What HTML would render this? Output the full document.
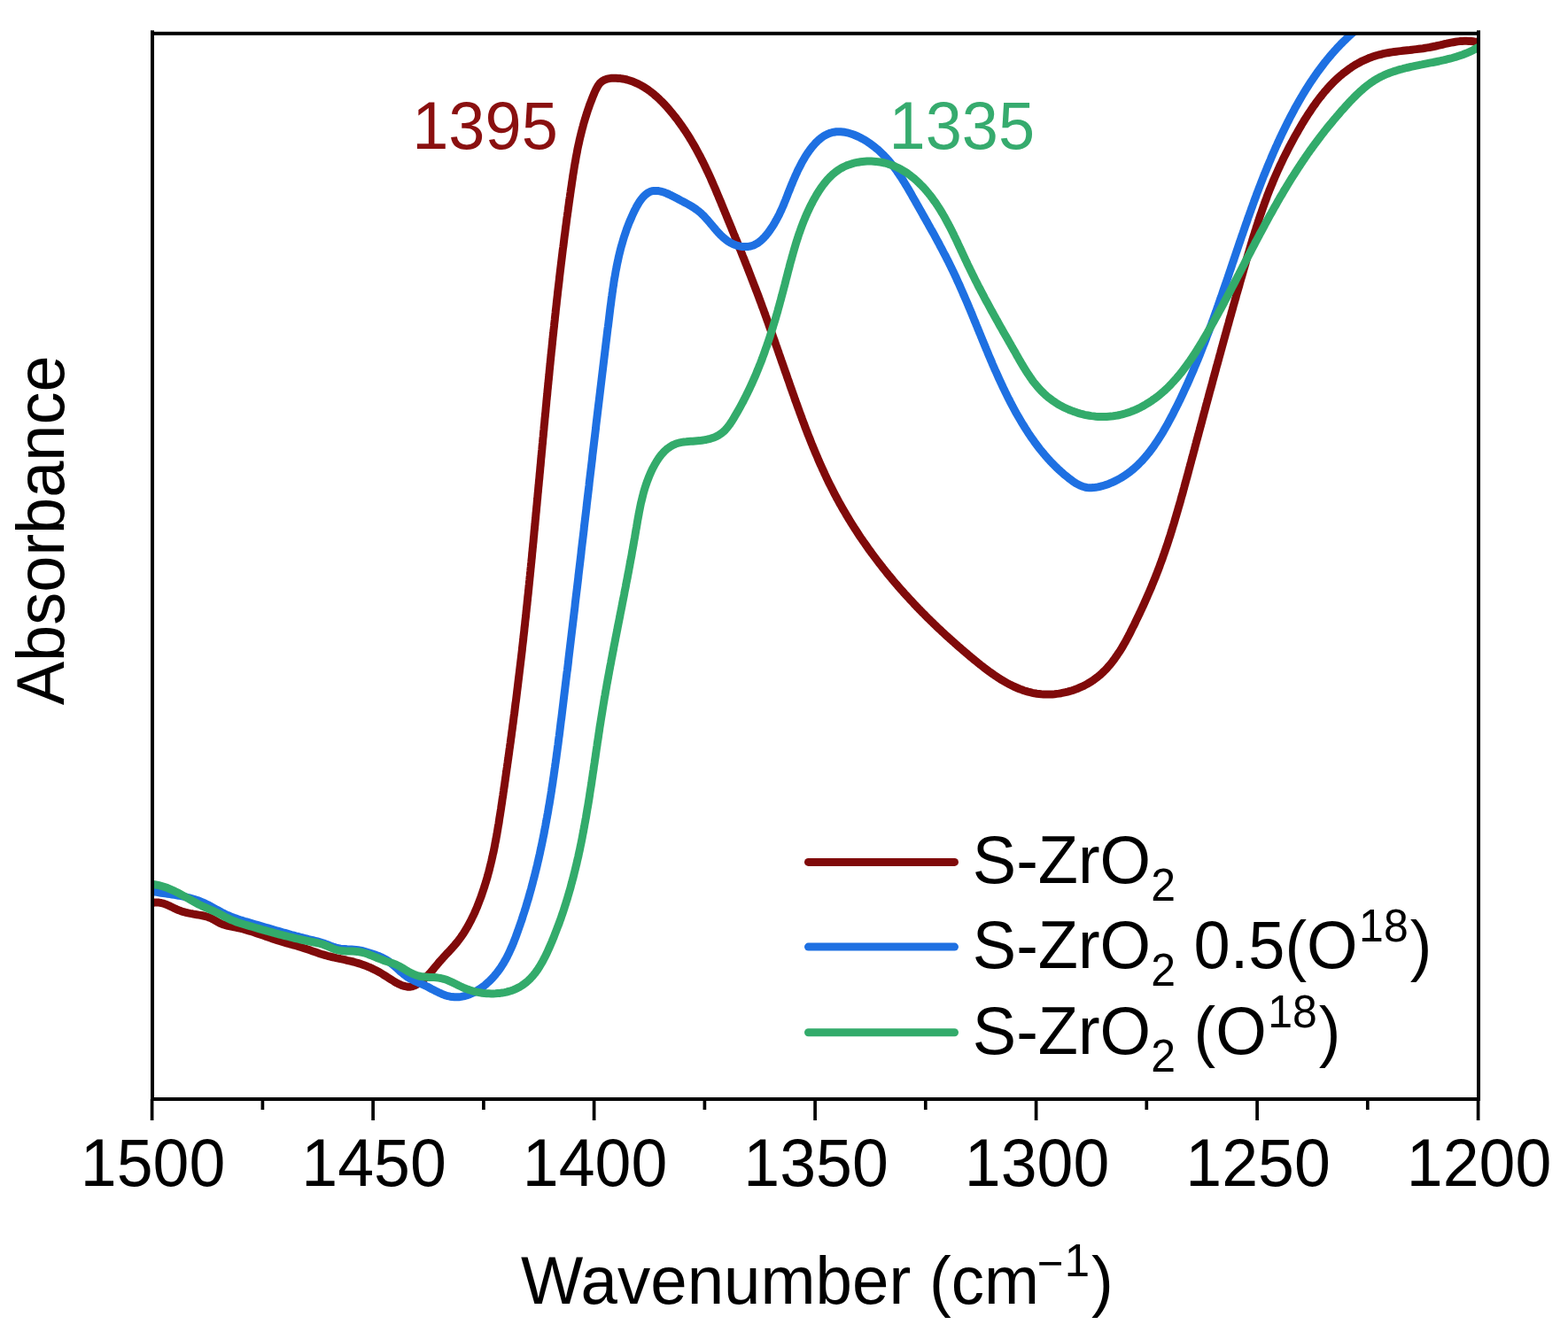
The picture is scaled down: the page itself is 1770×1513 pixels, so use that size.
<!DOCTYPE html>
<html><head><meta charset="utf-8"><style>html,body{margin:0;padding:0;background:#fff;width:1770px;height:1513px;overflow:hidden}svg{display:block}</style></head>
<body><svg width="1770" height="1513" viewBox="0 0 1770 1513">
<rect width="1770" height="1513" fill="#fff"/>
<defs><clipPath id="cp"><rect x="172" y="37.8" width="1497" height="1203.2"/></clipPath></defs>
<g clip-path="url(#cp)" fill="none" stroke-width="9" stroke-linejoin="round" stroke-linecap="round">
<path stroke="#800a0a" d="M172.0,1019.5L174.4,1019.1L176.9,1018.9L179.4,1019.1L181.9,1019.5L184.3,1020.1L186.7,1020.9L189.0,1021.9L191.3,1022.9L193.6,1024.0L195.8,1025.1L198.1,1026.1L200.4,1027.2L202.7,1028.1L205.0,1028.9L207.4,1029.7L209.9,1030.3L212.3,1030.9L214.7,1031.4L217.2,1031.8L219.7,1032.3L222.1,1032.7L224.6,1033.1L227.1,1033.5L229.5,1034.0L232.0,1034.6L234.4,1035.3L236.7,1036.2L239.0,1037.2L241.2,1038.4L243.4,1039.7L245.5,1040.9L247.7,1042.1L250.0,1043.1L252.3,1044.0L254.7,1044.7L257.2,1045.4L259.6,1045.9L262.1,1046.4L264.5,1046.9L267.0,1047.3L269.4,1047.9L271.9,1048.4L274.3,1049.0L276.7,1049.7L279.1,1050.4L281.5,1051.1L283.9,1051.8L286.3,1052.6L288.7,1053.4L291.0,1054.2L293.4,1055.0L295.8,1055.8L298.1,1056.6L300.5,1057.5L302.9,1058.3L305.2,1059.1L307.6,1059.9L310.0,1060.7L312.3,1061.5L314.7,1062.3L317.1,1063.0L319.5,1063.7L321.9,1064.4L324.3,1065.1L326.7,1065.8L329.2,1066.4L331.6,1067.1L334.0,1067.7L336.4,1068.4L338.8,1069.2L341.2,1069.9L343.5,1070.7L345.9,1071.5L348.3,1072.3L350.6,1073.1L353.0,1074.0L355.4,1074.8L357.7,1075.6L360.1,1076.4L362.5,1077.2L364.9,1077.9L367.3,1078.6L369.7,1079.3L372.1,1079.9L374.6,1080.5L377.0,1081.0L379.4,1081.6L381.9,1082.1L384.3,1082.7L386.8,1083.2L389.2,1083.7L391.7,1084.3L394.1,1084.8L396.5,1085.4L399.0,1086.0L401.4,1086.7L403.8,1087.4L406.2,1088.1L408.6,1088.9L410.9,1089.7L413.3,1090.6L415.6,1091.6L417.9,1092.5L420.2,1093.6L422.4,1094.7L424.6,1095.8L426.9,1097.0L429.0,1098.2L431.2,1099.5L433.3,1100.8L435.4,1102.1L437.5,1103.5L439.6,1104.8L441.7,1106.2L443.9,1107.5L446.0,1108.8L448.2,1110.1L450.4,1111.2L452.7,1112.2L455.1,1113.1L457.5,1113.7L459.9,1114.2L462.4,1114.3L464.9,1113.9L467.3,1113.1L469.5,1112.1L471.7,1110.8L473.8,1109.5L475.8,1108.0L477.7,1106.4L479.6,1104.7L481.4,1103.0L483.1,1101.2L484.8,1099.3L486.5,1097.5L488.1,1095.6L489.7,1093.6L491.3,1091.7L492.9,1089.8L494.5,1087.9L496.1,1085.9L497.8,1084.1L499.5,1082.2L501.1,1080.3L502.8,1078.5L504.5,1076.7L506.3,1074.8L508.0,1073.0L509.7,1071.2L511.3,1069.3L513.0,1067.4L514.6,1065.5L516.2,1063.6L517.7,1061.6L519.2,1059.6L520.7,1057.6L522.1,1055.5L523.5,1053.4L524.8,1051.3L526.1,1049.2L527.4,1047.0L528.6,1044.8L529.8,1042.6L531.0,1040.4L532.1,1038.2L533.2,1035.9L534.3,1033.7L535.4,1031.4L536.4,1029.1L537.4,1026.8L538.4,1024.5L539.3,1022.2L540.2,1019.9L541.1,1017.5L542.0,1015.2L542.9,1012.9L543.7,1010.5L544.5,1008.1L545.3,1005.8L546.1,1003.4L546.9,1001.0L547.6,998.6L548.4,996.2L549.1,993.8L549.8,991.4L550.5,989.0L551.1,986.6L551.8,984.2L552.4,981.8L553.0,979.3L553.6,976.9L554.2,974.5L554.8,972.0L555.3,969.6L555.9,967.1L556.4,964.7L557.0,962.3L557.5,959.8L558.0,957.4L558.5,954.9L558.9,952.4L559.4,950.0L559.9,947.5L560.3,945.1L560.8,942.6L561.2,940.1L561.6,937.7L562.0,935.2L562.4,932.7L562.9,930.3L563.3,927.8L563.6,925.3L564.0,922.8L564.4,920.4L564.8,917.9L565.2,915.4L565.6,912.9L565.9,910.5L566.3,908.0L566.7,905.5L567.0,903.0L567.4,900.6L567.8,898.1L568.1,895.6L568.5,893.1L568.8,890.7L569.2,888.2L569.6,885.7L569.9,883.2L570.3,880.8L570.6,878.3L571.0,875.8L571.3,873.3L571.7,870.8L572.0,868.4L572.4,865.9L572.7,863.4L573.1,860.9L573.4,858.4L573.8,856.0L574.1,853.5L574.5,851.0L574.8,848.5L575.1,846.1L575.5,843.6L575.8,841.1L576.2,838.6L576.5,836.1L576.8,833.7L577.2,831.2L577.5,828.7L577.8,826.2L578.2,823.7L578.5,821.2L578.8,818.8L579.2,816.3L579.5,813.8L579.8,811.3L580.1,808.8L580.5,806.4L580.8,803.9L581.1,801.4L581.4,798.9L581.7,796.4L582.0,793.9L582.4,791.5L582.7,789.0L583.0,786.5L583.3,784.0L583.6,781.5L583.9,779.0L584.2,776.6L584.5,774.1L584.8,771.6L585.1,769.1L585.4,766.6L585.7,764.1L586.0,761.7L586.3,759.2L586.6,756.7L586.9,754.2L587.2,751.7L587.5,749.2L587.8,746.7L588.1,744.3L588.4,741.8L588.7,739.3L589.0,736.8L589.3,734.3L589.5,731.8L589.8,729.3L590.1,726.8L590.4,724.4L590.7,721.9L590.9,719.4L591.2,716.9L591.5,714.4L591.8,711.9L592.0,709.4L592.3,706.9L592.6,704.5L592.8,702.0L593.1,699.5L593.4,697.0L593.7,694.5L593.9,692.0L594.2,689.5L594.4,687.0L594.7,684.5L595.0,682.1L595.2,679.6L595.5,677.1L595.7,674.6L596.0,672.1L596.3,669.6L596.5,667.1L596.8,664.6L597.0,662.1L597.3,659.7L597.5,657.2L597.8,654.7L598.0,652.2L598.3,649.7L598.5,647.2L598.8,644.7L599.0,642.2L599.3,639.7L599.5,637.2L599.8,634.7L600.0,632.3L600.3,629.8L600.5,627.3L600.7,624.8L601.0,622.3L601.2,619.8L601.5,617.3L601.7,614.8L602.0,612.3L602.2,609.8L602.4,607.3L602.7,604.9L602.9,602.4L603.1,599.9L603.4,597.4L603.6,594.9L603.9,592.4L604.1,589.9L604.3,587.4L604.6,584.9L604.8,582.4L605.0,579.9L605.3,577.4L605.5,574.9L605.7,572.5L606.0,570.0L606.2,567.5L606.4,565.0L606.7,562.5L606.9,560.0L607.1,557.5L607.4,555.0L607.6,552.5L607.8,550.0L608.1,547.5L608.3,545.0L608.5,542.6L608.8,540.1L609.0,537.6L609.2,535.1L609.5,532.6L609.7,530.1L609.9,527.6L610.2,525.1L610.4,522.6L610.6,520.1L610.8,517.6L611.1,515.1L611.3,512.6L611.5,510.2L611.8,507.7L612.0,505.2L612.2,502.7L612.5,500.2L612.7,497.7L612.9,495.2L613.2,492.7L613.4,490.2L613.6,487.7L613.9,485.2L614.1,482.7L614.3,480.2L614.6,477.8L614.8,475.3L615.0,472.8L615.3,470.3L615.5,467.8L615.8,465.3L616.0,462.8L616.2,460.3L616.5,457.8L616.7,455.3L616.9,452.8L617.2,450.3L617.4,447.9L617.7,445.4L617.9,442.9L618.1,440.4L618.4,437.9L618.6,435.4L618.9,432.9L619.1,430.4L619.4,427.9L619.6,425.4L619.9,422.9L620.1,420.5L620.3,418.0L620.6,415.5L620.8,413.0L621.1,410.5L621.3,408.0L621.6,405.5L621.8,403.0L622.1,400.5L622.3,398.0L622.6,395.5L622.9,393.1L623.1,390.6L623.4,388.1L623.6,385.6L623.9,383.1L624.1,380.6L624.4,378.1L624.7,375.6L624.9,373.1L625.2,370.7L625.5,368.2L625.7,365.7L626.0,363.2L626.3,360.7L626.5,358.2L626.8,355.7L627.1,353.2L627.3,350.7L627.6,348.3L627.9,345.8L628.2,343.3L628.4,340.8L628.7,338.3L629.0,335.8L629.3,333.3L629.5,330.8L629.8,328.4L630.1,325.9L630.4,323.4L630.7,320.9L631.0,318.4L631.3,315.9L631.5,313.4L631.8,311.0L632.1,308.5L632.4,306.0L632.7,303.5L633.0,301.0L633.3,298.5L633.6,296.0L633.9,293.6L634.2,291.1L634.5,288.6L634.8,286.1L635.1,283.6L635.4,281.1L635.8,278.6L636.1,276.2L636.4,273.7L636.7,271.2L637.0,268.7L637.3,266.2L637.7,263.8L638.0,261.3L638.3,258.8L638.6,256.3L639.0,253.8L639.3,251.3L639.6,248.9L639.9,246.4L640.3,243.9L640.6,241.4L641.0,238.9L641.3,236.5L641.6,234.0L642.0,231.5L642.3,229.0L642.7,226.5L643.0,224.1L643.4,221.6L643.7,219.1L644.1,216.6L644.4,214.2L644.8,211.7L645.2,209.2L645.5,206.7L645.9,204.2L646.3,201.8L646.6,199.3L647.0,196.8L647.4,194.4L647.8,191.9L648.2,189.4L648.6,186.9L649.0,184.5L649.5,182.0L649.9,179.5L650.3,177.1L650.8,174.6L651.3,172.2L651.7,169.7L652.2,167.2L652.7,164.8L653.3,162.3L653.8,159.9L654.3,157.5L654.9,155.0L655.5,152.6L656.1,150.2L656.7,147.7L657.3,145.3L658.0,142.9L658.6,140.5L659.3,138.1L660.0,135.7L660.7,133.3L661.5,130.9L662.2,128.5L663.0,126.1L663.8,123.7L664.6,121.4L665.4,119.0L666.3,116.7L667.2,114.3L668.1,112.0L669.0,109.7L670.0,107.3L670.9,105.0L671.9,102.7L673.0,100.5L674.2,98.3L675.5,96.1L677.0,94.1L678.8,92.4L680.8,91.0L683.1,89.9L685.5,89.1L687.9,88.6L690.4,88.3L692.9,88.2L695.4,88.2L697.9,88.4L700.4,88.6L702.9,89.0L705.3,89.4L707.8,90.0L710.2,90.7L712.6,91.5L714.9,92.3L717.2,93.3L719.5,94.3L721.7,95.4L723.9,96.6L726.1,97.9L728.2,99.2L730.3,100.6L732.4,102.0L734.4,103.5L736.3,105.0L738.3,106.6L740.2,108.3L742.1,109.9L743.9,111.6L745.7,113.4L747.5,115.1L749.2,116.9L750.9,118.7L752.6,120.6L754.3,122.5L755.9,124.4L757.5,126.3L759.1,128.2L760.7,130.2L762.2,132.1L763.8,134.1L765.3,136.1L766.7,138.1L768.2,140.2L769.7,142.2L771.1,144.3L772.5,146.3L773.9,148.4L775.2,150.5L776.6,152.6L777.9,154.7L779.2,156.9L780.5,159.0L781.8,161.2L783.1,163.3L784.3,165.5L785.5,167.7L786.7,169.9L787.9,172.1L789.1,174.3L790.3,176.5L791.4,178.7L792.5,181.0L793.7,183.2L794.8,185.4L795.9,187.7L796.9,189.9L798.0,192.2L799.1,194.5L800.1,196.8L801.2,199.0L802.2,201.3L803.2,203.6L804.2,205.9L805.2,208.2L806.2,210.5L807.2,212.8L808.2,215.1L809.1,217.4L810.1,219.7L811.1,222.0L812.0,224.3L813.0,226.6L814.0,228.9L814.9,231.3L815.9,233.6L816.8,235.9L817.8,238.2L818.7,240.5L819.7,242.8L820.6,245.1L821.6,247.5L822.5,249.8L823.5,252.1L824.4,254.4L825.4,256.7L826.3,259.0L827.3,261.4L828.2,263.7L829.2,266.0L830.1,268.3L831.0,270.6L832.0,272.9L832.9,275.3L833.9,277.6L834.8,279.9L835.7,282.2L836.7,284.6L837.6,286.9L838.5,289.2L839.5,291.5L840.4,293.8L841.3,296.2L842.2,298.5L843.2,300.8L844.1,303.2L845.0,305.5L845.9,307.8L846.8,310.1L847.7,312.5L848.6,314.8L849.5,317.1L850.4,319.5L851.3,321.8L852.2,324.2L853.1,326.5L854.0,328.8L854.9,331.2L855.8,333.5L856.7,335.9L857.5,338.2L858.4,340.6L859.3,342.9L860.1,345.3L861.0,347.6L861.9,350.0L862.7,352.3L863.6,354.7L864.4,357.0L865.3,359.4L866.1,361.7L867.0,364.1L867.8,366.4L868.6,368.8L869.5,371.2L870.3,373.5L871.2,375.9L872.0,378.2L872.8,380.6L873.7,383.0L874.5,385.3L875.3,387.7L876.1,390.0L877.0,392.4L877.8,394.8L878.6,397.1L879.4,399.5L880.3,401.9L881.1,404.2L881.9,406.6L882.7,408.9L883.6,411.3L884.4,413.7L885.2,416.0L886.0,418.4L886.9,420.8L887.7,423.1L888.5,425.5L889.3,427.8L890.2,430.2L891.0,432.6L891.8,434.9L892.6,437.3L893.5,439.7L894.3,442.0L895.1,444.4L896.0,446.7L896.8,449.1L897.6,451.5L898.5,453.8L899.3,456.2L900.2,458.5L901.0,460.9L901.9,463.2L902.7,465.6L903.6,467.9L904.5,470.3L905.3,472.6L906.2,475.0L907.1,477.3L908.0,479.7L908.8,482.0L909.7,484.3L910.6,486.7L911.5,489.0L912.4,491.3L913.4,493.7L914.3,496.0L915.2,498.3L916.1,500.7L917.1,503.0L918.0,505.3L919.0,507.6L919.9,509.9L920.9,512.2L921.9,514.5L922.9,516.8L923.8,519.1L924.8,521.4L925.8,523.7L926.9,526.0L927.9,528.3L928.9,530.6L930.0,532.8L931.0,535.1L932.1,537.4L933.1,539.6L934.2,541.9L935.3,544.2L936.4,546.4L937.5,548.6L938.7,550.9L939.8,553.1L940.9,555.3L942.1,557.6L943.3,559.8L944.4,562.0L945.6,564.2L946.8,566.4L948.0,568.6L949.3,570.8L950.5,572.9L951.7,575.1L953.0,577.3L954.3,579.4L955.5,581.6L956.8,583.7L958.1,585.9L959.4,588.0L960.7,590.1L962.1,592.3L963.4,594.4L964.7,596.5L966.1,598.6L967.5,600.7L968.8,602.8L970.2,604.9L971.6,607.0L973.0,609.0L974.4,611.1L975.9,613.1L977.3,615.2L978.7,617.2L980.2,619.3L981.6,621.3L983.1,623.3L984.6,625.4L986.1,627.4L987.6,629.4L989.1,631.4L990.6,633.4L992.1,635.4L993.6,637.3L995.2,639.3L996.7,641.3L998.3,643.2L999.9,645.2L1001.4,647.1L1003.0,649.1L1004.6,651.0L1006.2,652.9L1007.8,654.9L1009.4,656.8L1011.0,658.7L1012.7,660.6L1014.3,662.5L1016.0,664.4L1017.6,666.2L1019.3,668.1L1020.9,670.0L1022.6,671.8L1024.3,673.7L1026.0,675.5L1027.7,677.4L1029.4,679.2L1031.1,681.0L1032.8,682.9L1034.5,684.7L1036.3,686.5L1038.0,688.3L1039.8,690.1L1041.5,691.9L1043.3,693.6L1045.0,695.4L1046.8,697.2L1048.6,698.9L1050.4,700.7L1052.2,702.4L1054.0,704.2L1055.8,705.9L1057.6,707.7L1059.4,709.4L1061.2,711.1L1063.0,712.8L1064.9,714.5L1066.7,716.2L1068.5,717.9L1070.4,719.6L1072.2,721.3L1074.1,722.9L1076.0,724.6L1077.8,726.3L1079.7,727.9L1081.6,729.6L1083.5,731.2L1085.4,732.9L1087.3,734.5L1089.2,736.1L1091.1,737.7L1093.0,739.4L1094.9,741.0L1096.8,742.6L1098.8,744.2L1100.7,745.8L1102.6,747.3L1104.6,748.9L1106.5,750.5L1108.5,752.0L1110.5,753.6L1112.5,755.1L1114.5,756.6L1116.5,758.1L1118.5,759.5L1120.6,761.0L1122.6,762.4L1124.7,763.8L1126.8,765.2L1128.9,766.6L1131.0,767.9L1133.2,769.2L1135.3,770.4L1137.5,771.6L1139.7,772.8L1142.0,773.9L1144.2,775.0L1146.5,776.0L1148.8,777.0L1151.1,778.0L1153.5,778.8L1155.8,779.7L1158.2,780.4L1160.6,781.1L1163.0,781.7L1165.5,782.3L1167.9,782.8L1170.4,783.2L1172.9,783.5L1175.4,783.8L1177.9,783.9L1180.4,784.0L1182.9,784.0L1185.4,784.0L1187.9,783.9L1190.4,783.7L1192.9,783.4L1195.3,783.1L1197.8,782.7L1200.3,782.2L1202.7,781.7L1205.1,781.1L1207.6,780.4L1210.0,779.7L1212.3,778.9L1214.7,778.1L1217.0,777.2L1219.3,776.2L1221.6,775.2L1223.9,774.1L1226.1,772.9L1228.3,771.7L1230.4,770.4L1232.5,769.1L1234.6,767.7L1236.6,766.2L1238.6,764.7L1240.6,763.1L1242.5,761.5L1244.3,759.8L1246.1,758.0L1247.9,756.3L1249.6,754.4L1251.2,752.6L1252.9,750.7L1254.5,748.7L1256.0,746.8L1257.5,744.8L1259.0,742.7L1260.4,740.7L1261.8,738.6L1263.2,736.5L1264.6,734.4L1265.9,732.3L1267.2,730.1L1268.4,728.0L1269.7,725.8L1270.9,723.6L1272.1,721.4L1273.3,719.2L1274.4,717.0L1275.6,714.8L1276.7,712.5L1277.8,710.3L1278.9,708.1L1280.1,705.8L1281.2,703.6L1282.2,701.3L1283.3,699.1L1284.4,696.8L1285.5,694.6L1286.6,692.3L1287.6,690.0L1288.7,687.8L1289.7,685.5L1290.8,683.2L1291.8,680.9L1292.8,678.6L1293.8,676.4L1294.8,674.1L1295.8,671.8L1296.8,669.5L1297.8,667.2L1298.8,664.9L1299.8,662.6L1300.7,660.2L1301.7,657.9L1302.6,655.6L1303.6,653.3L1304.5,651.0L1305.4,648.6L1306.3,646.3L1307.2,644.0L1308.1,641.6L1309.0,639.3L1309.8,636.9L1310.7,634.6L1311.6,632.2L1312.4,629.9L1313.2,627.5L1314.1,625.1L1314.9,622.8L1315.7,620.4L1316.5,618.0L1317.3,615.7L1318.1,613.3L1318.9,610.9L1319.6,608.5L1320.4,606.2L1321.2,603.8L1321.9,601.4L1322.7,599.0L1323.4,596.6L1324.1,594.2L1324.9,591.8L1325.6,589.4L1326.3,587.0L1327.0,584.6L1327.7,582.2L1328.4,579.8L1329.1,577.4L1329.8,575.0L1330.5,572.6L1331.2,570.2L1331.9,567.8L1332.6,565.4L1333.2,563.0L1333.9,560.6L1334.6,558.2L1335.3,555.7L1335.9,553.3L1336.6,550.9L1337.2,548.5L1337.9,546.1L1338.5,543.7L1339.2,541.3L1339.9,538.8L1340.5,536.4L1341.2,534.0L1341.8,531.6L1342.4,529.2L1343.1,526.7L1343.7,524.3L1344.4,521.9L1345.0,519.5L1345.7,517.1L1346.3,514.7L1347.0,512.2L1347.6,509.8L1348.3,507.4L1348.9,505.0L1349.5,502.6L1350.2,500.1L1350.8,497.7L1351.5,495.3L1352.1,492.9L1352.8,490.5L1353.4,488.1L1354.1,485.6L1354.7,483.2L1355.4,480.8L1356.0,478.4L1356.7,476.0L1357.3,473.5L1358.0,471.1L1358.6,468.7L1359.2,466.3L1359.9,463.9L1360.5,461.5L1361.2,459.0L1361.8,456.6L1362.5,454.2L1363.1,451.8L1363.8,449.4L1364.4,447.0L1365.1,444.5L1365.7,442.1L1366.4,439.7L1367.1,437.3L1367.7,434.9L1368.4,432.5L1369.0,430.0L1369.7,427.6L1370.3,425.2L1371.0,422.8L1371.6,420.4L1372.3,418.0L1372.9,415.5L1373.6,413.1L1374.3,410.7L1374.9,408.3L1375.6,405.9L1376.2,403.5L1376.9,401.1L1377.6,398.6L1378.2,396.2L1378.9,393.8L1379.5,391.4L1380.2,389.0L1380.9,386.6L1381.5,384.2L1382.2,381.7L1382.9,379.3L1383.5,376.9L1384.2,374.5L1384.9,372.1L1385.5,369.7L1386.2,367.3L1386.9,364.9L1387.5,362.5L1388.2,360.0L1388.9,357.6L1389.6,355.2L1390.2,352.8L1390.9,350.4L1391.6,348.0L1392.2,345.6L1392.9,343.2L1393.6,340.8L1394.3,338.3L1395.0,335.9L1395.6,333.5L1396.3,331.1L1397.0,328.7L1397.7,326.3L1398.4,323.9L1399.1,321.5L1399.7,319.1L1400.4,316.7L1401.1,314.3L1401.8,311.9L1402.5,309.5L1403.2,307.0L1403.9,304.6L1404.6,302.2L1405.3,299.8L1406.0,297.4L1406.6,295.0L1407.3,292.6L1408.0,290.2L1408.7,287.8L1409.5,285.4L1410.2,283.0L1410.9,280.6L1411.6,278.2L1412.3,275.8L1413.0,273.4L1413.8,271.0L1414.5,268.6L1415.2,266.2L1416.0,263.9L1416.7,261.5L1417.5,259.1L1418.2,256.7L1419.0,254.3L1419.8,251.9L1420.6,249.6L1421.3,247.2L1422.1,244.8L1422.9,242.4L1423.8,240.1L1424.6,237.7L1425.4,235.3L1426.2,233.0L1427.1,230.6L1427.9,228.3L1428.8,225.9L1429.7,223.6L1430.5,221.2L1431.4,218.9L1432.3,216.6L1433.2,214.2L1434.2,211.9L1435.1,209.6L1436.1,207.3L1437.0,204.9L1438.0,202.6L1439.0,200.3L1440.0,198.0L1441.0,195.7L1442.0,193.5L1443.0,191.2L1444.1,188.9L1445.1,186.6L1446.2,184.4L1447.3,182.1L1448.3,179.9L1449.4,177.6L1450.5,175.4L1451.7,173.1L1452.8,170.9L1453.9,168.7L1455.1,166.4L1456.3,164.2L1457.4,162.0L1458.6,159.8L1459.8,157.6L1461.0,155.4L1462.2,153.2L1463.5,151.0L1464.7,148.9L1465.9,146.7L1467.2,144.5L1468.5,142.4L1469.7,140.2L1471.0,138.1L1472.3,135.9L1473.6,133.8L1475.0,131.7L1476.3,129.6L1477.7,127.5L1479.1,125.4L1480.5,123.3L1481.9,121.2L1483.3,119.2L1484.8,117.2L1486.2,115.1L1487.7,113.1L1489.2,111.1L1490.8,109.2L1492.3,107.2L1493.9,105.3L1495.5,103.3L1497.2,101.4L1498.8,99.6L1500.5,97.7L1502.2,95.9L1503.9,94.1L1505.7,92.3L1507.5,90.6L1509.3,88.8L1511.2,87.1L1513.0,85.5L1515.0,83.9L1516.9,82.3L1518.9,80.8L1520.9,79.3L1522.9,77.8L1525.0,76.4L1527.0,75.0L1529.2,73.7L1531.3,72.4L1533.5,71.2L1535.7,70.0L1537.9,68.8L1540.2,67.8L1542.5,66.8L1544.8,65.8L1547.1,64.9L1549.5,64.1L1551.9,63.3L1554.3,62.5L1556.7,61.9L1559.1,61.3L1561.5,60.7L1564.0,60.2L1566.5,59.7L1568.9,59.3L1571.4,58.9L1573.9,58.5L1576.3,58.2L1578.8,57.9L1581.3,57.6L1583.8,57.3L1586.3,57.0L1588.8,56.7L1591.3,56.5L1593.8,56.2L1596.2,55.9L1598.7,55.6L1601.2,55.3L1603.7,55.0L1606.2,54.7L1608.7,54.3L1611.1,53.9L1613.6,53.5L1616.1,53.0L1618.5,52.5L1620.9,52.0L1623.4,51.4L1625.8,50.9L1628.3,50.3L1630.7,49.7L1633.1,49.2L1635.6,48.6L1638.0,48.1L1640.5,47.7L1643.0,47.3L1645.4,46.9L1647.9,46.6L1650.4,46.4L1652.9,46.3L1655.4,46.3L1657.9,46.4L1660.4,46.5L1662.9,46.8L1665.4,47.1L1667.9,47.5L1670.3,48.1"/>
<path stroke="#1e70e2" d="M172.0,1006.7L174.5,1007.1L177.0,1007.4L179.5,1007.8L181.9,1008.2L184.4,1008.5L186.9,1008.9L189.4,1009.3L191.9,1009.6L194.3,1010.0L196.8,1010.4L199.3,1010.8L201.7,1011.2L204.2,1011.7L206.7,1012.2L209.1,1012.7L211.6,1013.3L214.0,1013.9L216.4,1014.5L218.8,1015.2L221.2,1016.0L223.6,1016.8L225.9,1017.7L228.2,1018.6L230.5,1019.6L232.8,1020.7L235.0,1021.8L237.2,1023.0L239.4,1024.2L241.6,1025.4L243.8,1026.6L246.0,1027.8L248.2,1029.0L250.4,1030.2L252.7,1031.3L254.9,1032.4L257.2,1033.5L259.5,1034.5L261.8,1035.4L264.1,1036.3L266.5,1037.1L268.9,1037.9L271.3,1038.7L273.7,1039.4L276.1,1040.2L278.5,1040.9L280.9,1041.6L283.3,1042.3L285.7,1043.0L288.1,1043.7L290.5,1044.4L292.9,1045.1L295.3,1045.8L297.7,1046.5L300.1,1047.2L302.5,1047.9L304.9,1048.6L307.3,1049.3L309.7,1050.0L312.1,1050.7L314.5,1051.4L316.9,1052.1L319.3,1052.8L321.7,1053.4L324.1,1054.1L326.6,1054.8L329.0,1055.5L331.4,1056.1L333.8,1056.8L336.2,1057.4L338.6,1058.1L341.1,1058.7L343.5,1059.3L345.9,1059.9L348.3,1060.6L350.8,1061.2L353.2,1061.7L355.7,1062.3L358.1,1062.9L360.5,1063.6L362.9,1064.3L365.3,1065.0L367.6,1065.9L370.0,1066.8L372.3,1067.7L374.7,1068.6L377.0,1069.4L379.4,1070.1L381.9,1070.6L384.3,1071.1L386.8,1071.4L389.3,1071.6L391.8,1071.8L394.3,1071.9L396.8,1072.0L399.3,1072.2L401.8,1072.4L404.3,1072.7L406.8,1073.1L409.2,1073.7L411.6,1074.3L414.0,1075.0L416.4,1075.7L418.8,1076.5L421.2,1077.3L423.6,1078.1L425.9,1078.9L428.3,1079.8L430.6,1080.8L432.8,1081.9L435.0,1083.1L437.2,1084.4L439.2,1085.8L441.2,1087.4L443.1,1088.9L445.0,1090.6L446.9,1092.2L448.8,1093.9L450.6,1095.6L452.5,1097.3L454.4,1098.9L456.3,1100.5L458.3,1102.0L460.4,1103.4L462.5,1104.7L464.7,1105.9L467.0,1107.1L469.2,1108.1L471.5,1109.1L473.8,1110.1L476.1,1111.1L478.4,1112.1L480.7,1113.2L482.9,1114.3L485.1,1115.5L487.3,1116.7L489.5,1117.8L491.8,1119.0L494.0,1120.1L496.3,1121.2L498.6,1122.2L500.9,1123.1L503.2,1124.0L505.6,1124.7L508.1,1125.2L510.6,1125.6L513.1,1125.8L515.6,1125.8L518.1,1125.7L520.5,1125.4L523.0,1124.9L525.4,1124.3L527.8,1123.6L530.2,1122.7L532.5,1121.7L534.8,1120.7L537.0,1119.5L539.1,1118.2L541.2,1116.9L543.3,1115.4L545.3,1114.0L547.3,1112.4L549.2,1110.8L551.0,1109.1L552.9,1107.4L554.6,1105.6L556.3,1103.8L558.0,1101.9L559.6,1100.0L561.2,1098.0L562.7,1096.0L564.2,1094.0L565.6,1091.9L566.9,1089.8L568.3,1087.7L569.5,1085.6L570.8,1083.4L572.0,1081.2L573.1,1078.9L574.2,1076.7L575.3,1074.4L576.3,1072.2L577.3,1069.9L578.3,1067.6L579.3,1065.3L580.2,1062.9L581.1,1060.6L582.0,1058.3L582.9,1055.9L583.7,1053.6L584.6,1051.2L585.4,1048.8L586.2,1046.5L587.1,1044.1L587.9,1041.7L588.7,1039.4L589.5,1037.0L590.2,1034.6L591.0,1032.2L591.8,1029.8L592.5,1027.5L593.3,1025.1L594.0,1022.7L594.7,1020.3L595.4,1017.9L596.2,1015.5L596.9,1013.1L597.5,1010.7L598.2,1008.2L598.9,1005.8L599.6,1003.4L600.2,1001.0L600.9,998.6L601.5,996.2L602.1,993.7L602.8,991.3L603.4,988.9L604.0,986.5L604.6,984.0L605.2,981.6L605.8,979.2L606.4,976.7L606.9,974.3L607.5,971.9L608.1,969.4L608.6,967.0L609.2,964.5L609.7,962.1L610.2,959.6L610.8,957.2L611.3,954.7L611.8,952.3L612.3,949.8L612.8,947.4L613.3,944.9L613.8,942.5L614.3,940.0L614.7,937.5L615.2,935.1L615.7,932.6L616.1,930.2L616.6,927.7L617.0,925.2L617.5,922.8L617.9,920.3L618.4,917.8L618.8,915.4L619.2,912.9L619.6,910.4L620.1,908.0L620.5,905.5L620.9,903.0L621.3,900.6L621.7,898.1L622.1,895.6L622.5,893.1L622.8,890.7L623.2,888.2L623.6,885.7L624.0,883.2L624.3,880.8L624.7,878.3L625.1,875.8L625.4,873.3L625.8,870.8L626.1,868.4L626.5,865.9L626.8,863.4L627.2,860.9L627.5,858.5L627.9,856.0L628.2,853.5L628.5,851.0L628.9,848.5L629.2,846.0L629.5,843.6L629.9,841.1L630.2,838.6L630.5,836.1L630.8,833.6L631.2,831.1L631.5,828.7L631.8,826.2L632.1,823.7L632.4,821.2L632.7,818.7L633.0,816.2L633.3,813.8L633.7,811.3L634.0,808.8L634.3,806.3L634.6,803.8L634.9,801.3L635.2,798.8L635.5,796.4L635.8,793.9L636.1,791.4L636.4,788.9L636.7,786.4L637.0,783.9L637.3,781.4L637.6,779.0L637.9,776.5L638.2,774.0L638.5,771.5L638.8,769.0L639.1,766.5L639.4,764.0L639.7,761.6L640.0,759.1L640.4,756.6L640.7,754.1L641.0,751.6L641.3,749.1L641.6,746.6L641.8,744.2L642.1,741.7L642.4,739.2L642.7,736.7L643.0,734.2L643.3,731.7L643.6,729.2L643.9,726.7L644.2,724.3L644.5,721.8L644.8,719.3L645.1,716.8L645.4,714.3L645.7,711.8L646.0,709.3L646.3,706.9L646.6,704.4L646.9,701.9L647.2,699.4L647.5,696.9L647.8,694.4L648.1,691.9L648.4,689.4L648.7,687.0L649.0,684.5L649.2,682.0L649.5,679.5L649.8,677.0L650.1,674.5L650.4,672.0L650.7,669.5L651.0,667.1L651.3,664.6L651.6,662.1L651.9,659.6L652.2,657.1L652.5,654.6L652.8,652.1L653.0,649.7L653.3,647.2L653.6,644.7L653.9,642.2L654.2,639.7L654.5,637.2L654.8,634.7L655.1,632.2L655.4,629.8L655.7,627.3L656.0,624.8L656.2,622.3L656.5,619.8L656.8,617.3L657.1,614.8L657.4,612.3L657.7,609.9L658.0,607.4L658.3,604.9L658.6,602.4L658.9,599.9L659.2,597.4L659.4,594.9L659.7,592.4L660.0,590.0L660.3,587.5L660.6,585.0L660.9,582.5L661.2,580.0L661.5,577.5L661.8,575.0L662.1,572.5L662.3,570.1L662.6,567.6L662.9,565.1L663.2,562.6L663.5,560.1L663.8,557.6L664.1,555.1L664.4,552.6L664.7,550.2L665.0,547.7L665.2,545.2L665.5,542.7L665.8,540.2L666.1,537.7L666.4,535.2L666.7,532.7L667.0,530.3L667.3,527.8L667.6,525.3L667.9,522.8L668.2,520.3L668.5,517.8L668.7,515.3L669.0,512.8L669.3,510.4L669.6,507.9L669.9,505.4L670.2,502.9L670.5,500.4L670.8,497.9L671.1,495.4L671.4,493.0L671.7,490.5L672.0,488.0L672.3,485.5L672.6,483.0L672.8,480.5L673.1,478.0L673.4,475.5L673.7,473.1L674.0,470.6L674.3,468.1L674.6,465.6L674.9,463.1L675.2,460.6L675.5,458.1L675.8,455.6L676.1,453.2L676.4,450.7L676.7,448.2L677.0,445.7L677.3,443.2L677.6,440.7L677.9,438.2L678.2,435.8L678.5,433.3L678.8,430.8L679.1,428.3L679.4,425.8L679.7,423.3L680.0,420.8L680.3,418.4L680.6,415.9L680.9,413.4L681.2,410.9L681.5,408.4L681.8,405.9L682.1,403.4L682.4,401.0L682.7,398.5L683.0,396.0L683.3,393.5L683.6,391.0L683.9,388.5L684.2,386.0L684.5,383.6L684.8,381.1L685.1,378.6L685.4,376.1L685.7,373.6L686.0,371.1L686.4,368.6L686.7,366.2L687.0,363.7L687.3,361.2L687.6,358.7L687.9,356.2L688.2,353.7L688.5,351.2L688.8,348.8L689.1,346.3L689.5,343.8L689.8,341.3L690.1,338.8L690.4,336.3L690.8,333.9L691.1,331.4L691.5,328.9L691.8,326.4L692.2,323.9L692.6,321.5L692.9,319.0L693.3,316.5L693.7,314.0L694.2,311.6L694.6,309.1L695.0,306.6L695.5,304.2L696.0,301.7L696.4,299.3L696.9,296.8L697.5,294.4L698.0,291.9L698.5,289.5L699.1,287.0L699.7,284.6L700.3,282.2L700.9,279.7L701.6,277.3L702.3,274.9L703.0,272.5L703.7,270.1L704.4,267.7L705.2,265.3L706.0,263.0L706.8,260.6L707.6,258.2L708.5,255.9L709.4,253.5L710.3,251.2L711.3,248.9L712.3,246.6L713.3,244.3L714.3,242.0L715.3,239.8L716.4,237.5L717.6,235.3L718.7,233.1L720.0,230.9L721.3,228.7L722.7,226.7L724.2,224.6L725.8,222.7L727.5,220.9L729.4,219.2L731.4,217.8L733.6,216.6L736.0,215.8L738.5,215.4L741.0,215.4L743.4,215.6L745.9,216.1L748.3,216.8L750.7,217.6L753.0,218.5L755.3,219.5L757.6,220.6L759.8,221.7L762.0,222.9L764.3,224.0L766.5,225.2L768.7,226.4L770.9,227.5L773.1,228.7L775.3,229.9L777.5,231.1L779.7,232.4L781.8,233.7L783.9,235.0L786.0,236.5L788.0,238.0L789.9,239.5L791.8,241.2L793.6,242.9L795.3,244.7L797.0,246.6L798.7,248.4L800.3,250.3L801.9,252.3L803.6,254.2L805.2,256.1L806.8,258.0L808.4,259.9L810.1,261.8L811.8,263.6L813.5,265.4L815.3,267.1L817.2,268.8L819.1,270.4L821.1,271.9L823.2,273.3L825.4,274.5L827.7,275.6L830.0,276.6L832.4,277.4L834.8,278.0L837.2,278.4L839.7,278.6L842.2,278.6L844.7,278.4L847.2,278.0L849.6,277.3L851.9,276.3L854.1,275.1L856.2,273.8L858.2,272.2L860.1,270.6L861.9,268.8L863.6,267.0L865.2,265.1L866.8,263.2L868.3,261.1L869.7,259.1L871.1,257.0L872.5,254.9L873.8,252.8L875.0,250.6L876.3,248.4L877.5,246.2L878.6,244.0L879.8,241.8L880.8,239.5L881.9,237.2L882.9,235.0L883.9,232.7L884.9,230.4L885.8,228.0L886.8,225.7L887.7,223.4L888.6,221.1L889.5,218.7L890.4,216.4L891.4,214.1L892.3,211.7L893.2,209.4L894.2,207.1L895.1,204.8L896.1,202.5L897.1,200.2L898.1,197.9L899.2,195.6L900.2,193.3L901.3,191.1L902.4,188.9L903.6,186.6L904.7,184.4L905.9,182.2L907.2,180.0L908.4,177.9L909.8,175.7L911.1,173.6L912.5,171.6L914.0,169.5L915.5,167.5L917.0,165.6L918.7,163.7L920.3,161.8L922.1,160.0L923.9,158.3L925.8,156.7L927.8,155.2L929.9,153.7L932.0,152.5L934.3,151.4L936.6,150.4L939.0,149.7L941.4,149.2L943.9,148.8L946.4,148.7L948.9,148.8L951.4,149.0L953.9,149.3L956.4,149.8L958.8,150.5L961.2,151.2L963.5,152.0L965.9,153.0L968.2,154.0L970.4,155.0L972.6,156.2L974.8,157.4L977.0,158.7L979.1,160.0L981.2,161.4L983.2,162.9L985.2,164.4L987.2,165.9L989.1,167.5L991.1,169.1L992.9,170.8L994.7,172.5L996.5,174.2L998.3,176.0L1000.0,177.8L1001.7,179.7L1003.4,181.6L1005.0,183.5L1006.5,185.4L1008.1,187.4L1009.6,189.4L1011.1,191.4L1012.6,193.4L1014.0,195.5L1015.4,197.6L1016.8,199.6L1018.2,201.7L1019.5,203.9L1020.8,206.0L1022.1,208.1L1023.4,210.3L1024.7,212.4L1026.0,214.6L1027.2,216.7L1028.5,218.9L1029.7,221.1L1030.9,223.3L1032.2,225.5L1033.4,227.6L1034.6,229.8L1035.9,232.0L1037.1,234.2L1038.3,236.3L1039.6,238.5L1040.8,240.7L1042.0,242.9L1043.3,245.1L1044.5,247.2L1045.7,249.4L1047.0,251.6L1048.2,253.8L1049.4,256.0L1050.6,258.2L1051.9,260.4L1053.1,262.5L1054.3,264.7L1055.5,266.9L1056.7,269.1L1057.9,271.3L1059.1,273.5L1060.3,275.7L1061.4,277.9L1062.6,280.2L1063.8,282.4L1064.9,284.6L1066.1,286.8L1067.3,289.0L1068.4,291.3L1069.5,293.5L1070.7,295.7L1071.8,298.0L1072.9,300.2L1074.0,302.5L1075.1,304.7L1076.2,307.0L1077.2,309.2L1078.3,311.5L1079.4,313.8L1080.4,316.1L1081.4,318.3L1082.5,320.6L1083.5,322.9L1084.5,325.2L1085.5,327.5L1086.5,329.8L1087.5,332.1L1088.5,334.4L1089.5,336.7L1090.5,339.0L1091.5,341.3L1092.5,343.6L1093.4,345.9L1094.4,348.2L1095.4,350.5L1096.3,352.8L1097.3,355.1L1098.2,357.5L1099.2,359.8L1100.1,362.1L1101.1,364.4L1102.0,366.7L1103.0,369.0L1103.9,371.4L1104.9,373.7L1105.8,376.0L1106.8,378.3L1107.7,380.6L1108.7,383.0L1109.6,385.3L1110.6,387.6L1111.5,389.9L1112.5,392.2L1113.4,394.5L1114.4,396.8L1115.4,399.2L1116.3,401.5L1117.3,403.8L1118.3,406.1L1119.3,408.4L1120.2,410.7L1121.2,413.0L1122.2,415.3L1123.2,417.6L1124.3,419.9L1125.3,422.1L1126.3,424.4L1127.3,426.7L1128.4,429.0L1129.4,431.3L1130.5,433.5L1131.5,435.8L1132.6,438.1L1133.7,440.3L1134.8,442.6L1135.9,444.8L1137.0,447.1L1138.1,449.3L1139.3,451.5L1140.4,453.8L1141.6,456.0L1142.7,458.2L1143.9,460.4L1145.1,462.6L1146.3,464.8L1147.5,467.0L1148.8,469.2L1150.0,471.3L1151.3,473.5L1152.6,475.7L1153.8,477.8L1155.2,479.9L1156.5,482.1L1157.8,484.2L1159.2,486.3L1160.5,488.4L1161.9,490.5L1163.3,492.6L1164.7,494.6L1166.2,496.7L1167.6,498.7L1169.1,500.7L1170.6,502.7L1172.1,504.7L1173.6,506.7L1175.2,508.7L1176.8,510.6L1178.4,512.5L1180.0,514.5L1181.6,516.3L1183.3,518.2L1185.0,520.1L1186.7,521.9L1188.5,523.7L1190.2,525.5L1192.0,527.2L1193.8,529.0L1195.6,530.7L1197.5,532.4L1199.4,534.0L1201.2,535.7L1203.2,537.3L1205.1,538.8L1207.1,540.4L1209.1,541.9L1211.1,543.4L1213.2,544.8L1215.3,546.1L1217.5,547.3L1219.8,548.4L1222.1,549.3L1224.5,550.0L1226.9,550.5L1229.4,550.7L1231.9,550.8L1234.4,550.6L1236.9,550.3L1239.4,549.9L1241.8,549.3L1244.3,548.7L1246.7,548.0L1249.0,547.2L1251.4,546.4L1253.7,545.4L1256.0,544.5L1258.3,543.4L1260.5,542.3L1262.7,541.1L1264.9,539.9L1267.1,538.6L1269.2,537.2L1271.3,535.8L1273.3,534.4L1275.3,532.9L1277.3,531.3L1279.2,529.7L1281.1,528.1L1282.9,526.4L1284.7,524.7L1286.5,522.9L1288.3,521.1L1290.0,519.3L1291.6,517.4L1293.3,515.5L1294.9,513.6L1296.5,511.7L1298.0,509.7L1299.5,507.7L1301.0,505.7L1302.5,503.7L1303.9,501.6L1305.3,499.5L1306.7,497.4L1308.1,495.3L1309.4,493.2L1310.8,491.1L1312.1,489.0L1313.3,486.8L1314.6,484.7L1315.8,482.5L1317.1,480.3L1318.3,478.1L1319.5,475.9L1320.7,473.7L1321.8,471.5L1323.0,469.3L1324.2,467.1L1325.3,464.8L1326.4,462.6L1327.6,460.4L1328.7,458.1L1329.8,455.9L1330.9,453.6L1332.0,451.4L1333.1,449.1L1334.2,446.8L1335.2,444.6L1336.3,442.3L1337.3,440.0L1338.4,437.8L1339.4,435.5L1340.5,433.2L1341.5,430.9L1342.5,428.6L1343.5,426.3L1344.5,424.0L1345.5,421.7L1346.5,419.4L1347.5,417.1L1348.4,414.8L1349.4,412.5L1350.4,410.2L1351.3,407.9L1352.3,405.6L1353.2,403.3L1354.2,400.9L1355.1,398.6L1356.0,396.3L1356.9,394.0L1357.8,391.6L1358.8,389.3L1359.7,387.0L1360.6,384.6L1361.5,382.3L1362.3,379.9L1363.2,377.6L1364.1,375.3L1365.0,372.9L1365.8,370.6L1366.7,368.2L1367.6,365.9L1368.4,363.5L1369.3,361.2L1370.1,358.8L1371.0,356.4L1371.8,354.1L1372.7,351.7L1373.5,349.4L1374.3,347.0L1375.2,344.6L1376.0,342.3L1376.8,339.9L1377.6,337.5L1378.5,335.2L1379.3,332.8L1380.1,330.4L1380.9,328.1L1381.7,325.7L1382.5,323.3L1383.3,321.0L1384.2,318.6L1385.0,316.2L1385.8,313.9L1386.6,311.5L1387.4,309.1L1388.2,306.7L1389.0,304.4L1389.8,302.0L1390.6,299.6L1391.4,297.2L1392.2,294.9L1393.0,292.5L1393.8,290.1L1394.6,287.8L1395.4,285.4L1396.2,283.0L1397.0,280.6L1397.8,278.3L1398.6,275.9L1399.4,273.5L1400.2,271.2L1401.0,268.8L1401.8,266.4L1402.7,264.1L1403.5,261.7L1404.3,259.3L1405.1,257.0L1405.9,254.6L1406.8,252.2L1407.6,249.9L1408.4,247.5L1409.2,245.1L1410.1,242.8L1410.9,240.4L1411.8,238.1L1412.6,235.7L1413.5,233.3L1414.3,231.0L1415.2,228.6L1416.0,226.3L1416.9,223.9L1417.8,221.6L1418.6,219.2L1419.5,216.9L1420.4,214.6L1421.3,212.2L1422.2,209.9L1423.1,207.5L1424.0,205.2L1424.9,202.9L1425.8,200.5L1426.7,198.2L1427.7,195.9L1428.6,193.6L1429.6,191.2L1430.5,188.9L1431.5,186.6L1432.4,184.3L1433.4,182.0L1434.4,179.7L1435.3,177.4L1436.3,175.1L1437.3,172.8L1438.3,170.5L1439.3,168.2L1440.3,165.9L1441.4,163.6L1442.4,161.3L1443.5,159.1L1444.5,156.8L1445.6,154.5L1446.6,152.2L1447.7,150.0L1448.8,147.7L1449.9,145.5L1451.0,143.2L1452.1,141.0L1453.2,138.7L1454.4,136.5L1455.5,134.3L1456.6,132.1L1457.8,129.8L1459.0,127.6L1460.2,125.4L1461.3,123.2L1462.5,121.0L1463.8,118.8L1465.0,116.6L1466.2,114.5L1467.5,112.3L1468.7,110.1L1470.0,108.0L1471.3,105.8L1472.6,103.7L1473.9,101.5L1475.2,99.4L1476.6,97.3L1477.9,95.2L1479.3,93.1L1480.7,91.0L1482.1,88.9L1483.5,86.9L1484.9,84.8L1486.3,82.8L1487.8,80.7L1489.3,78.7L1490.8,76.7L1492.3,74.7L1493.8,72.7L1495.3,70.7L1496.9,68.8L1498.5,66.8L1500.1,64.9L1501.7,63.0L1503.3,61.1L1505.0,59.2L1506.6,57.3L1508.3,55.5L1510.0,53.6L1511.7,51.8L1513.4,50.0L1515.2,48.2L1517.0,46.4L1518.8,44.7L1520.6,42.9L1522.4,41.2L1524.2,39.5L1526.1,37.9L1528.0,36.2L1529.9,34.6L1531.8,32.9L1533.7,31.4L1535.7,29.8L1537.6,28.2L1539.6,26.7L1541.6,25.2L1543.6,23.7L1545.7,22.3"/>
<path stroke="#33ab6b" d="M172.0,998.5L174.5,998.8L177.0,999.2L179.4,999.7L181.8,1000.3L184.2,1001.0L186.6,1001.8L189.0,1002.6L191.3,1003.6L193.6,1004.6L195.9,1005.6L198.1,1006.7L200.4,1007.8L202.6,1009.0L204.8,1010.2L207.0,1011.4L209.1,1012.6L211.3,1013.9L213.5,1015.1L215.7,1016.4L217.8,1017.6L220.0,1018.8L222.2,1020.0L224.4,1021.2L226.7,1022.3L228.9,1023.4L231.2,1024.4L233.5,1025.4L235.8,1026.4L238.1,1027.4L240.4,1028.4L242.7,1029.5L244.9,1030.5L247.2,1031.6L249.4,1032.8L251.6,1034.0L253.8,1035.2L256.0,1036.3L258.3,1037.4L260.5,1038.5L262.9,1039.4L265.2,1040.3L267.5,1041.2L269.9,1042.0L272.3,1042.8L274.7,1043.5L277.1,1044.2L279.5,1044.9L281.9,1045.6L284.3,1046.3L286.7,1047.0L289.1,1047.7L291.5,1048.4L293.9,1049.1L296.3,1049.8L298.7,1050.4L301.2,1051.1L303.6,1051.8L306.0,1052.4L308.4,1053.1L310.8,1053.8L313.2,1054.4L315.6,1055.1L318.1,1055.7L320.5,1056.3L322.9,1056.9L325.3,1057.5L327.8,1058.1L330.2,1058.7L332.6,1059.3L335.1,1059.9L337.5,1060.4L340.0,1061.0L342.4,1061.5L344.9,1062.0L347.3,1062.5L349.8,1063.0L352.2,1063.5L354.7,1064.0L357.1,1064.5L359.6,1065.0L362.0,1065.6L364.4,1066.3L366.8,1067.2L369.1,1068.1L371.4,1069.1L373.7,1070.1L376.0,1071.1L378.3,1072.0L380.7,1072.6L383.2,1073.1L385.7,1073.5L388.1,1073.7L390.6,1073.9L393.1,1074.0L395.7,1074.0L398.2,1074.1L400.7,1074.2L403.1,1074.4L405.6,1074.8L408.1,1075.2L410.5,1075.8L412.9,1076.5L415.3,1077.3L417.6,1078.2L420.0,1079.1L422.3,1080.1L424.6,1081.0L426.9,1082.0L429.2,1082.9L431.6,1083.8L433.9,1084.7L436.3,1085.5L438.7,1086.2L441.1,1087.0L443.4,1087.8L445.8,1088.7L448.1,1089.7L450.3,1090.8L452.5,1092.0L454.7,1093.2L456.8,1094.5L459.0,1095.8L461.1,1097.1L463.3,1098.3L465.6,1099.4L467.9,1100.4L470.2,1101.3L472.6,1102.0L475.1,1102.5L477.5,1102.8L480.0,1103.1L482.5,1103.2L485.0,1103.4L487.5,1103.5L490.0,1103.6L492.5,1103.8L495.0,1104.1L497.5,1104.5L499.9,1105.1L502.3,1105.8L504.7,1106.6L507.0,1107.6L509.3,1108.6L511.5,1109.6L513.8,1110.7L516.0,1111.9L518.3,1113.0L520.5,1114.0L522.8,1115.1L525.1,1116.1L527.5,1116.9L529.8,1117.8L532.2,1118.5L534.6,1119.2L537.0,1119.8L539.5,1120.3L542.0,1120.8L544.4,1121.2L546.9,1121.5L549.4,1121.7L551.9,1121.8L554.4,1121.9L556.9,1121.9L559.4,1121.8L561.9,1121.6L564.4,1121.4L566.9,1121.0L569.3,1120.6L571.8,1120.1L574.2,1119.4L576.6,1118.7L579.0,1117.9L581.3,1117.0L583.6,1115.9L585.8,1114.8L588.0,1113.5L590.1,1112.2L592.1,1110.7L594.1,1109.2L596.0,1107.5L597.8,1105.8L599.5,1104.0L601.2,1102.2L602.8,1100.2L604.4,1098.3L605.8,1096.2L607.3,1094.2L608.6,1092.1L609.9,1090.0L611.2,1087.8L612.5,1085.6L613.6,1083.4L614.8,1081.2L615.9,1079.0L617.0,1076.7L618.1,1074.4L619.1,1072.2L620.1,1069.9L621.1,1067.6L622.1,1065.3L623.1,1063.0L624.0,1060.7L625.0,1058.4L625.9,1056.0L626.8,1053.7L627.7,1051.4L628.6,1049.0L629.5,1046.7L630.4,1044.3L631.3,1042.0L632.1,1039.6L633.0,1037.3L633.8,1034.9L634.6,1032.5L635.4,1030.2L636.2,1027.8L637.0,1025.4L637.7,1023.0L638.5,1020.7L639.2,1018.3L640.0,1015.9L640.7,1013.5L641.4,1011.1L642.1,1008.7L642.8,1006.3L643.5,1003.9L644.2,1001.5L644.8,999.0L645.5,996.6L646.1,994.2L646.8,991.8L647.4,989.4L648.0,986.9L648.6,984.5L649.2,982.1L649.8,979.6L650.4,977.2L651.0,974.8L651.5,972.3L652.1,969.9L652.7,967.5L653.2,965.0L653.7,962.6L654.3,960.1L654.8,957.7L655.3,955.2L655.8,952.8L656.3,950.3L656.8,947.9L657.3,945.4L657.7,942.9L658.2,940.5L658.7,938.0L659.1,935.6L659.6,933.1L660.0,930.6L660.5,928.2L660.9,925.7L661.4,923.3L661.8,920.8L662.2,918.3L662.6,915.9L663.0,913.4L663.5,910.9L663.9,908.4L664.3,906.0L664.7,903.5L665.1,901.0L665.5,898.6L665.8,896.1L666.2,893.6L666.6,891.1L667.0,888.7L667.4,886.2L667.8,883.7L668.1,881.2L668.5,878.8L668.9,876.3L669.2,873.8L669.6,871.3L670.0,868.9L670.3,866.4L670.7,863.9L671.1,861.4L671.4,859.0L671.8,856.5L672.2,854.0L672.5,851.5L672.9,849.0L673.2,846.6L673.6,844.1L674.0,841.6L674.3,839.1L674.7,836.7L675.1,834.2L675.5,831.7L675.8,829.2L676.2,826.8L676.6,824.3L676.9,821.8L677.3,819.3L677.7,816.9L678.1,814.4L678.5,811.9L678.9,809.4L679.3,807.0L679.7,804.5L680.1,802.0L680.5,799.6L680.9,797.1L681.3,794.6L681.7,792.2L682.1,789.7L682.5,787.2L683.0,784.8L683.4,782.3L683.8,779.8L684.3,777.4L684.7,774.9L685.1,772.4L685.6,770.0L686.0,767.5L686.5,765.0L686.9,762.6L687.4,760.1L687.8,757.6L688.3,755.2L688.7,752.7L689.2,750.3L689.7,747.8L690.1,745.3L690.6,742.9L691.1,740.4L691.5,738.0L692.0,735.5L692.5,733.0L692.9,730.6L693.4,728.1L693.9,725.7L694.4,723.2L694.8,720.8L695.3,718.3L695.8,715.8L696.3,713.4L696.8,710.9L697.2,708.5L697.7,706.0L698.2,703.6L698.7,701.1L699.2,698.7L699.7,696.2L700.1,693.7L700.6,691.3L701.1,688.8L701.6,686.4L702.1,683.9L702.5,681.5L703.0,679.0L703.5,676.5L704.0,674.1L704.5,671.6L704.9,669.2L705.4,666.7L705.9,664.3L706.4,661.8L706.8,659.3L707.3,656.9L707.8,654.4L708.3,652.0L708.7,649.5L709.2,647.0L709.7,644.6L710.1,642.1L710.6,639.7L711.0,637.2L711.5,634.7L711.9,632.3L712.4,629.8L712.9,627.4L713.3,624.9L713.7,622.4L714.2,620.0L714.6,617.5L715.1,615.0L715.5,612.6L715.9,610.1L716.4,607.6L716.8,605.2L717.2,602.7L717.6,600.2L718.0,597.8L718.5,595.3L718.9,592.8L719.3,590.4L719.7,587.9L720.2,585.4L720.6,583.0L721.1,580.5L721.5,578.1L722.0,575.6L722.5,573.1L723.0,570.7L723.5,568.2L724.1,565.8L724.7,563.4L725.3,560.9L725.9,558.5L726.5,556.1L727.2,553.7L727.9,551.3L728.7,548.9L729.5,546.5L730.3,544.2L731.2,541.8L732.1,539.5L733.0,537.2L734.0,534.9L735.0,532.6L736.1,530.3L737.2,528.1L738.4,525.9L739.6,523.7L740.9,521.5L742.2,519.4L743.6,517.3L745.1,515.3L746.6,513.3L748.3,511.4L750.0,509.6L751.8,507.9L753.7,506.3L755.8,504.8L757.9,503.5L760.1,502.3L762.4,501.3L764.8,500.5L767.2,499.9L769.6,499.4L772.1,499.0L774.6,498.8L777.1,498.5L779.6,498.3L782.1,498.2L784.6,498.0L787.1,497.8L789.6,497.6L792.1,497.3L794.5,496.9L797.0,496.5L799.4,495.9L801.9,495.3L804.3,494.5L806.6,493.7L808.9,492.6L811.1,491.5L813.2,490.1L815.2,488.6L817.1,487.0L818.9,485.2L820.5,483.3L822.1,481.4L823.6,479.4L825.0,477.3L826.4,475.2L827.7,473.1L829.0,470.9L830.2,468.8L831.5,466.6L832.8,464.4L834.0,462.3L835.2,460.1L836.4,457.9L837.6,455.7L838.8,453.5L839.9,451.2L841.1,449.0L842.2,446.8L843.3,444.5L844.4,442.3L845.5,440.0L846.6,437.8L847.6,435.5L848.7,433.2L849.7,430.9L850.7,428.7L851.7,426.4L852.7,424.1L853.7,421.8L854.6,419.4L855.6,417.1L856.5,414.8L857.4,412.5L858.4,410.2L859.3,407.8L860.2,405.5L861.0,403.1L861.9,400.8L862.8,398.4L863.6,396.1L864.4,393.7L865.3,391.4L866.1,389.0L866.9,386.6L867.7,384.3L868.5,381.9L869.3,379.5L870.0,377.1L870.8,374.7L871.5,372.3L872.3,370.0L873.0,367.6L873.7,365.2L874.5,362.8L875.2,360.4L875.9,358.0L876.6,355.6L877.3,353.2L878.0,350.7L878.6,348.3L879.3,345.9L880.0,343.5L880.6,341.1L881.3,338.7L881.9,336.3L882.6,333.8L883.2,331.4L883.9,329.0L884.5,326.6L885.1,324.2L885.8,321.7L886.4,319.3L887.0,316.9L887.6,314.5L888.3,312.0L888.9,309.6L889.5,307.2L890.1,304.8L890.8,302.4L891.4,299.9L892.0,297.5L892.7,295.1L893.4,292.7L894.0,290.3L894.7,287.9L895.4,285.4L896.1,283.0L896.8,280.6L897.5,278.2L898.2,275.8L898.9,273.4L899.7,271.1L900.5,268.7L901.2,266.3L902.0,263.9L902.9,261.6L903.7,259.2L904.5,256.9L905.4,254.5L906.3,252.2L907.2,249.8L908.2,247.5L909.1,245.2L910.1,242.9L911.1,240.6L912.2,238.3L913.2,236.1L914.3,233.8L915.4,231.6L916.6,229.3L917.7,227.1L918.9,224.9L920.2,222.7L921.4,220.6L922.7,218.4L924.0,216.3L925.4,214.2L926.8,212.1L928.2,210.1L929.7,208.1L931.3,206.1L932.8,204.2L934.5,202.3L936.2,200.5L938.0,198.7L939.8,197.0L941.7,195.4L943.7,193.8L945.7,192.3L947.8,191.0L950.0,189.7L952.2,188.5L954.4,187.5L956.7,186.5L959.1,185.7L961.5,184.9L963.9,184.2L966.3,183.7L968.8,183.2L971.3,182.8L973.7,182.5L976.2,182.3L978.7,182.1L981.2,182.1L983.7,182.1L986.2,182.2L988.7,182.4L991.2,182.7L993.7,183.0L996.2,183.5L998.6,184.0L1001.0,184.6L1003.4,185.4L1005.8,186.2L1008.1,187.0L1010.5,188.0L1012.7,189.0L1015.0,190.1L1017.2,191.3L1019.4,192.6L1021.5,193.9L1023.6,195.2L1025.6,196.7L1027.7,198.2L1029.6,199.7L1031.6,201.3L1033.5,202.9L1035.3,204.6L1037.2,206.3L1038.9,208.1L1040.7,209.9L1042.4,211.7L1044.1,213.5L1045.7,215.4L1047.3,217.3L1048.9,219.3L1050.5,221.2L1052.0,223.2L1053.5,225.3L1054.9,227.3L1056.4,229.3L1057.8,231.4L1059.1,233.5L1060.5,235.6L1061.8,237.7L1063.1,239.9L1064.4,242.0L1065.7,244.2L1066.9,246.4L1068.1,248.6L1069.3,250.8L1070.5,253.0L1071.6,255.2L1072.8,257.4L1073.9,259.6L1075.0,261.9L1076.2,264.1L1077.2,266.4L1078.3,268.6L1079.4,270.9L1080.5,273.1L1081.5,275.4L1082.6,277.7L1083.7,279.9L1084.7,282.2L1085.8,284.5L1086.8,286.8L1087.9,289.0L1088.9,291.3L1090.0,293.6L1091.1,295.8L1092.1,298.1L1093.2,300.4L1094.3,302.6L1095.4,304.9L1096.5,307.1L1097.6,309.4L1098.7,311.6L1099.8,313.8L1100.9,316.1L1102.1,318.3L1103.2,320.5L1104.3,322.8L1105.5,325.0L1106.7,327.2L1107.8,329.4L1109.0,331.6L1110.2,333.9L1111.3,336.1L1112.5,338.3L1113.7,340.5L1114.9,342.7L1116.1,344.9L1117.3,347.1L1118.5,349.3L1119.7,351.5L1120.9,353.7L1122.1,355.9L1123.3,358.0L1124.5,360.2L1125.8,362.4L1127.0,364.6L1128.2,366.8L1129.4,369.0L1130.7,371.1L1131.9,373.3L1133.1,375.5L1134.4,377.7L1135.6,379.8L1136.9,382.0L1138.1,384.2L1139.3,386.4L1140.6,388.5L1141.8,390.7L1143.1,392.9L1144.3,395.1L1145.6,397.2L1146.8,399.4L1148.0,401.6L1149.3,403.8L1150.5,405.9L1151.8,408.1L1153.0,410.2L1154.3,412.4L1155.6,414.6L1156.9,416.7L1158.2,418.8L1159.6,420.9L1161.0,423.0L1162.4,425.1L1163.8,427.1L1165.2,429.2L1166.7,431.2L1168.3,433.2L1169.9,435.1L1171.5,437.0L1173.1,438.9L1174.8,440.7L1176.6,442.5L1178.4,444.3L1180.2,446.0L1182.1,447.6L1184.0,449.2L1186.0,450.7L1188.0,452.2L1190.1,453.6L1192.2,455.0L1194.3,456.3L1196.5,457.6L1198.7,458.8L1200.9,459.9L1203.2,461.0L1205.4,462.0L1207.7,463.0L1210.1,463.9L1212.4,464.8L1214.8,465.6L1217.2,466.4L1219.6,467.1L1222.0,467.7L1224.4,468.3L1226.9,468.8L1229.4,469.2L1231.8,469.6L1234.3,469.9L1236.8,470.2L1239.3,470.4L1241.8,470.5L1244.3,470.6L1246.8,470.5L1249.3,470.5L1251.8,470.3L1254.3,470.1L1256.8,469.8L1259.3,469.4L1261.7,469.0L1264.2,468.5L1266.6,467.9L1269.0,467.2L1271.4,466.5L1273.8,465.7L1276.2,464.9L1278.5,464.0L1280.8,463.1L1283.1,462.1L1285.4,461.0L1287.6,459.9L1289.8,458.7L1292.0,457.5L1294.2,456.2L1296.3,454.9L1298.4,453.6L1300.5,452.2L1302.5,450.7L1304.6,449.3L1306.6,447.7L1308.5,446.2L1310.4,444.6L1312.3,443.0L1314.2,441.3L1316.1,439.6L1317.9,437.9L1319.7,436.1L1321.4,434.3L1323.1,432.5L1324.8,430.7L1326.5,428.8L1328.2,426.9L1329.8,425.0L1331.4,423.1L1333.0,421.2L1334.5,419.2L1336.0,417.2L1337.5,415.2L1339.0,413.2L1340.5,411.2L1341.9,409.1L1343.4,407.1L1344.8,405.0L1346.2,402.9L1347.6,400.9L1348.9,398.8L1350.3,396.6L1351.6,394.5L1352.9,392.4L1354.3,390.3L1355.6,388.1L1356.9,386.0L1358.1,383.8L1359.4,381.7L1360.7,379.5L1361.9,377.4L1363.2,375.2L1364.4,373.0L1365.7,370.9L1366.9,368.7L1368.1,366.5L1369.4,364.3L1370.6,362.1L1371.8,359.9L1373.0,357.8L1374.2,355.6L1375.4,353.4L1376.6,351.2L1377.8,349.0L1379.0,346.8L1380.2,344.6L1381.4,342.3L1382.5,340.1L1383.7,337.9L1384.9,335.7L1386.1,333.5L1387.2,331.3L1388.4,329.1L1389.6,326.9L1390.7,324.6L1391.9,322.4L1393.0,320.2L1394.2,318.0L1395.3,315.8L1396.5,313.5L1397.6,311.3L1398.8,309.1L1399.9,306.9L1401.1,304.6L1402.2,302.4L1403.4,300.2L1404.5,298.0L1405.7,295.7L1406.8,293.5L1408.0,291.3L1409.1,289.1L1410.3,286.9L1411.5,284.6L1412.6,282.4L1413.8,280.2L1414.9,278.0L1416.1,275.8L1417.2,273.5L1418.4,271.3L1419.6,269.1L1420.8,266.9L1421.9,264.7L1423.1,262.5L1424.3,260.3L1425.5,258.1L1426.7,255.9L1427.8,253.7L1429.0,251.5L1430.2,249.3L1431.4,247.1L1432.6,244.9L1433.8,242.7L1435.1,240.5L1436.3,238.3L1437.5,236.1L1438.7,233.9L1440.0,231.8L1441.2,229.6L1442.4,227.4L1443.7,225.2L1444.9,223.1L1446.2,220.9L1447.5,218.8L1448.7,216.6L1450.0,214.4L1451.3,212.3L1452.6,210.2L1453.9,208.0L1455.2,205.9L1456.5,203.7L1457.8,201.6L1459.2,199.5L1460.5,197.4L1461.9,195.3L1463.2,193.2L1464.6,191.1L1465.9,189.0L1467.3,186.9L1468.7,184.8L1470.1,182.7L1471.5,180.6L1472.9,178.6L1474.3,176.5L1475.7,174.4L1477.2,172.4L1478.6,170.3L1480.1,168.3L1481.5,166.3L1483.0,164.3L1484.5,162.2L1486.0,160.2L1487.5,158.2L1489.0,156.2L1490.5,154.2L1492.0,152.3L1493.6,150.3L1495.1,148.3L1496.7,146.3L1498.2,144.4L1499.8,142.4L1501.4,140.5L1503.0,138.6L1504.6,136.6L1506.2,134.7L1507.8,132.8L1509.4,130.9L1511.1,129.0L1512.7,127.1L1514.3,125.2L1516.0,123.4L1517.7,121.5L1519.3,119.6L1521.0,117.8L1522.7,115.9L1524.4,114.1L1526.2,112.3L1527.9,110.5L1529.7,108.7L1531.4,107.0L1533.3,105.2L1535.1,103.5L1537.0,101.9L1538.8,100.2L1540.8,98.6L1542.7,97.0L1544.7,95.5L1546.7,94.0L1548.8,92.6L1550.8,91.2L1553.0,89.9L1555.1,88.6L1557.3,87.4L1559.6,86.3L1561.8,85.2L1564.1,84.2L1566.4,83.2L1568.7,82.3L1571.1,81.4L1573.5,80.6L1575.8,79.9L1578.2,79.1L1580.6,78.4L1583.1,77.8L1585.5,77.1L1587.9,76.5L1590.3,76.0L1592.8,75.4L1595.2,74.9L1597.7,74.3L1600.1,73.8L1602.6,73.3L1605.0,72.9L1607.5,72.4L1610.0,71.9L1612.4,71.4L1614.9,70.9L1617.3,70.5L1619.8,70.0L1622.2,69.5L1624.7,69.0L1627.1,68.4L1629.6,67.9L1632.0,67.3L1634.4,66.7L1636.9,66.1L1639.3,65.5L1641.7,64.8L1644.1,64.1L1646.5,63.3L1648.8,62.5L1651.2,61.7L1653.5,60.8L1655.9,59.8L1658.2,58.8L1660.4,57.8L1662.7,56.7L1664.9,55.5L1667.1,54.3L1669.2,53.0"/>
</g>
<g stroke="#000" stroke-width="4" fill="none">
<rect x="172" y="37.8" width="1497" height="1203.2" stroke-linecap="square"/>
<line x1="172" y1="34.3" x2="172" y2="40"/><line x1="1669" y1="34.3" x2="1669" y2="40"/>
<line x1="171.6" y1="1241" x2="171.6" y2="1265" stroke-width="3.7"/><line x1="296.4" y1="1241" x2="296.4" y2="1253" stroke-width="3.7"/><line x1="421.1" y1="1241" x2="421.1" y2="1265" stroke-width="3.7"/><line x1="545.9" y1="1241" x2="545.9" y2="1253" stroke-width="3.7"/><line x1="670.6" y1="1241" x2="670.6" y2="1265" stroke-width="3.7"/><line x1="795.4" y1="1241" x2="795.4" y2="1253" stroke-width="3.7"/><line x1="920.1" y1="1241" x2="920.1" y2="1265" stroke-width="3.7"/><line x1="1044.8" y1="1241" x2="1044.8" y2="1253" stroke-width="3.7"/><line x1="1169.6" y1="1241" x2="1169.6" y2="1265" stroke-width="3.7"/><line x1="1294.3" y1="1241" x2="1294.3" y2="1253" stroke-width="3.7"/><line x1="1419.1" y1="1241" x2="1419.1" y2="1265" stroke-width="3.7"/><line x1="1543.8" y1="1241" x2="1543.8" y2="1253" stroke-width="3.7"/><line x1="1668.6" y1="1241" x2="1668.6" y2="1265" stroke-width="3.7"/>
</g>
<g font-family="'Liberation Sans', Arial, sans-serif" font-size="73.5" fill="#000">
<text transform="translate(172.5,1338.6) scale(1,1.033)" text-anchor="middle">1500</text><text transform="translate(422.0,1338.6) scale(1,1.033)" text-anchor="middle">1450</text><text transform="translate(671.5,1338.6) scale(1,1.033)" text-anchor="middle">1400</text><text transform="translate(921.0,1338.6) scale(1,1.033)" text-anchor="middle">1350</text><text transform="translate(1170.5,1338.6) scale(1,1.033)" text-anchor="middle">1300</text><text transform="translate(1420.0,1338.6) scale(1,1.033)" text-anchor="middle">1250</text><text transform="translate(1669.5,1338.6) scale(1,1.033)" text-anchor="middle">1200</text>
</g>
<g font-family="'Liberation Sans', Arial, sans-serif" fill="#000" transform="translate(588,1471.8) scale(1,1.015)">
<text font-size="74.5" x="0" y="0">Wavenumber (cm</text>
<text font-size="51" x="582.6" y="-27.6">&#8722;</text>
<text font-size="51" x="613.7" y="-30.2">1</text>
<text font-size="74.5" x="643.9" y="0">)</text>
</g>
<text font-family="'Liberation Sans', Arial, sans-serif" font-size="74" fill="#000" transform="translate(71.9,598.8) rotate(-90) scale(1,1.015)" text-anchor="middle">Absorbance</text>
<text font-family="'Liberation Sans', Arial, sans-serif" font-size="74" fill="#8a1010" transform="translate(465.2,167.7) scale(1,1.033)">1395</text>
<text font-family="'Liberation Sans', Arial, sans-serif" font-size="74" fill="#36ab6e" transform="translate(1003.5,167.7) scale(1,1.033)">1335</text>
<g stroke-width="9" stroke-linecap="round">
<line x1="912.5" y1="973.4" x2="1077.5" y2="973.4" stroke="#800a0a"/>
<line x1="912.5" y1="1069.1" x2="1077.5" y2="1069.1" stroke="#1e70e2"/>
<line x1="912.5" y1="1165.7" x2="1077.5" y2="1165.7" stroke="#33ab6b"/>
</g>
<g font-family="'Liberation Sans', Arial, sans-serif" font-size="74" fill="#000">
<text transform="translate(1097.8,996.8) scale(1,1.033)">S-ZrO<tspan font-size="50" dy="19.4">2</tspan></text>
<text transform="translate(1097.8,1093.4) scale(1,1.033)">S-ZrO<tspan font-size="50" dy="19.4">2</tspan><tspan dy="-19.4"> 0.5(O</tspan><tspan font-size="50" dy="-29.5" dx="1.5">18</tspan><tspan dy="29.5" dx="2">)</tspan></text>
<text transform="translate(1097.8,1189.5) scale(1,1.033)">S-ZrO<tspan font-size="50" dy="19.4">2</tspan><tspan dy="-19.4"> (O</tspan><tspan font-size="50" dy="-29" dx="1.5">18</tspan><tspan dy="29" dx="2">)</tspan></text>
</g>
</svg></body></html>
